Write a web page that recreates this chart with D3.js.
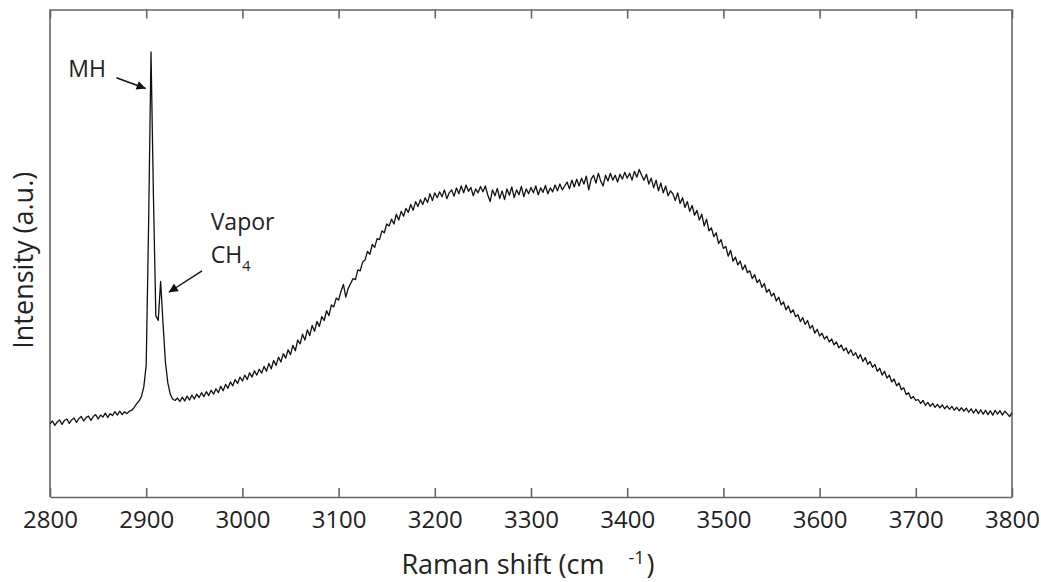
<html>
<head>
  <meta charset='utf-8' />
  <style>
    body { margin: 0; padding: 0; background: white; }
    text { font-family: 'Open Sans', sans-serif; fill: #222; }
  </style>
</head>

<body>
  <svg width='1041' height='582'></svg>
</body>

<script src="https://d3js.org/d3.v7.min.js"></script>

<script>
///////////////////
/// Data
///////////////////

  // raman spectrum, sampled every 2.5 cm-1 from 2800 to 3800
  const shiftStart = 2800
  const shiftStep = 2.5

  const intensity = [
    // 2800 - 2932.5
    150, 156, 147, 154, 158, 149, 157, 160, 151, 158,
    162, 153, 161, 165, 156, 163, 166, 157, 165, 169,
    160, 168, 164, 172, 163, 171, 167, 175, 168, 176,
    169, 175, 171, 176, 178, 184, 191, 197, 206, 226,
    270, 560, 913, 620, 372, 362, 442, 356, 276, 234,
    211, 201, 198, 203,
    // 2935 - 3000
    196, 205, 197, 207, 199, 209, 201, 211, 204, 214,
    206, 216, 208, 219, 211, 222, 214, 227, 218, 231,
    223, 236, 228, 241, 233, 246, 238,
    // 3002.5 - 3100
    250, 241, 255, 246, 259, 250, 262, 254, 268, 258,
    274, 263, 280, 270, 287, 277, 294, 285, 302, 292,
    311, 300, 322, 314, 334, 322, 343, 331, 352, 340,
    360, 350, 370, 362, 382, 372, 394, 390, 408, 404,
    // 3102.5 - 3200
    422, 436, 410, 428, 438, 448, 446, 466, 464, 482,
    486, 504, 498, 518, 512, 530, 528, 546, 542, 560,
    556, 570, 560, 580, 568, 586, 576, 592, 584, 600,
    588, 606, 596, 610, 600, 614, 604, 622, 608, 624,
    // 3202.5 - 3300
    614, 626, 616, 630, 612, 624, 630, 617, 634, 622,
    638, 624, 640, 627, 635, 618, 632, 624, 637, 626,
    638, 620, 606, 630, 618, 633, 612, 628, 610, 632,
    619, 636, 614, 630, 620, 637, 616, 632, 622, 635,
    // 3302.5 - 3400
    624, 638, 620, 634, 625, 639, 622, 634, 626, 640,
    628, 642, 630, 638, 646, 632, 650, 636, 652, 638,
    654, 642, 658, 630, 652, 660, 644, 664, 648, 638,
    660, 648, 664, 650, 660, 646, 662, 652, 666, 654,
    // 3402.5 - 3500
    664, 650, 668, 656, 672, 660, 650, 662, 642, 654,
    634, 650, 628, 644, 624, 638, 618, 628, 622, 608,
    624, 602, 614, 594, 606, 586, 598, 578, 588, 568,
    580, 556, 570, 546, 552, 534, 542, 520, 528, 510,
    // 3502.5 - 3600
    514, 494, 506, 484, 492, 476, 484, 466, 476, 460,
    464, 448, 456, 440, 446, 430, 438, 420, 426, 412,
    418, 402, 410, 394, 400, 384, 392, 378, 384, 370,
    374, 360, 368, 354, 362, 346, 352, 336, 344, 330,
    // 3602.5 - 3700
    336, 324, 330, 318, 324, 312, 318, 306, 312, 300,
    306, 294, 302, 290, 296, 284, 292, 278, 286, 272,
    278, 266, 272, 258, 264, 250, 258, 244, 250, 236,
    242, 228, 234, 220, 224, 210, 214, 202, 206, 198,
    // 3702.5 - 3800
    200, 192, 198, 188, 194, 186, 192, 184, 190, 183,
    189, 181, 187, 180, 186, 178, 184, 177, 183, 176,
    182, 174, 181, 172, 180, 171, 179, 170, 178, 169,
    177, 168, 178, 170, 177, 168, 176, 171, 165, 173
  ]

  const xTicks = [2800, 2900, 3000, 3100, 3200, 3300, 3400, 3500, 3600, 3700, 3800]

  // labels: text anchor and arrow tip in data units
  const labels = [
    {lines: ['MH'], tx: 2819, ty: 862, from: [2869, 860], to: [2899.5, 838]},
    {lines: ['Vapor', 'CH'], sub: '4', tx: 2967, ty: 547, from: [2958, 464], to: [2923.5, 420]}
  ]

  const spectrum = intensity.map((v, i) => ({shift: shiftStart + i * shiftStep, value: v}))

///////////////////
/// Scales
///////////////////

  const plotLeft = 50
  const plotRight = 1012
  const plotTop = 9.5
  const plotBottom = 497

  const scaleX = d3.scaleLinear()
    .domain([2800, 3800])
    .range([plotLeft, plotRight])

  const scaleY = d3.scaleLinear()
    .domain([0, 1000])
    .range([plotBottom, plotTop])

  const svg = d3.select('svg')

  svg.append('defs')
    .append('marker')
    .attr('id', 'head')
    .attr('viewBox', '0 0 10 10')
    .attr('refX', 10)
    .attr('refY', 5)
    .attr('markerWidth', 13)
    .attr('markerHeight', 9)
    .attr('markerUnits', 'userSpaceOnUse')
    .attr('orient', 'auto')
    .append('path')
    .attr('d', 'M0,0 L10,5 L0,10 Z')
    .style('fill', '#111')

///////////////////
/// Axes and box
///////////////////

  const boxColor = '#666'

  const bottomAxis = svg.append('g')
    .attr('transform', `translate(0, ${plotBottom})`)
    .call(d3.axisBottom(scaleX).tickValues(xTicks).tickFormat(d3.format('d'))
      .tickSizeInner(-9).tickSizeOuter(0).tickPadding(14))

  svg.append('g')
    .attr('transform', `translate(0, ${plotTop})`)
    .call(d3.axisTop(scaleX).tickValues(xTicks).tickSizeInner(-9).tickSizeOuter(0).tickFormat(''))

  svg.selectAll('.domain, .tick line')
    .style('stroke', boxColor)
    .style('stroke-width', 1.6)

  bottomAxis.selectAll('text')
    .style('font-size', '24px')
    .style('fill', '#222')
    .style('font-family', "'Open Sans', sans-serif")

  svg.append('line')
    .attr('x1', plotLeft).attr('x2', plotLeft)
    .attr('y1', plotTop).attr('y2', plotBottom)
    .style('stroke', boxColor).style('stroke-width', 1.6)

  svg.append('line')
    .attr('x1', plotRight).attr('x2', plotRight)
    .attr('y1', plotTop).attr('y2', plotBottom)
    .style('stroke', boxColor).style('stroke-width', 1.6)

  const xLabel = svg.append('text')
    .attr('x', 528)
    .attr('y', 574)
    .attr('text-anchor', 'middle')
    .style('font-size', '27px')

  xLabel.append('tspan').text('Raman shift (cm')
  xLabel.append('tspan').attr('dx', 24).attr('dy', -10).style('font-size', '18px').text('-1')
  xLabel.append('tspan').attr('dx', 2).attr('dy', 10).text(')')

  svg.append('text')
    .attr('transform', `translate(33, ${(plotTop + plotBottom) / 2 + 7}) rotate(-90)`)
    .attr('text-anchor', 'middle')
    .style('font-size', '27px')
    .text('Intensity (a.u.)')

///////////////////
/// Spectrum
///////////////////

  const line = d3.line()
    .x(d => scaleX(d.shift))
    .y(d => scaleY(d.value))

  svg.append('path')
    .datum(spectrum)
    .attr('fill', 'none')
    .attr('stroke', '#111')
    .attr('stroke-width', 1.3)
    .attr('stroke-linejoin', 'round')
    .attr('d', line)

///////////////////
/// Annotations
///////////////////

  labels.forEach(l => {
    const t = svg.append('text')
      .attr('x', scaleX(l.tx))
      .attr('y', scaleY(l.ty))
      .style('font-size', '23px')
    l.lines.forEach((s, i) => {
      t.append('tspan')
        .attr('x', scaleX(l.tx))
        .attr('dy', i == 0 ? 0 : 33)
        .text(s)
    })
    if (l.sub) {
      t.append('tspan').attr('dy', 8).style('font-size', '15px').text(l.sub)
    }

    svg.append('line')
      .attr('x1', scaleX(l.from[0])).attr('y1', scaleY(l.from[1]))
      .attr('x2', scaleX(l.to[0])).attr('y2', scaleY(l.to[1]))
      .style('stroke', '#111')
      .style('stroke-width', 1.4)
      .attr('marker-end', 'url(#head)')
  })

</script>
</html>
